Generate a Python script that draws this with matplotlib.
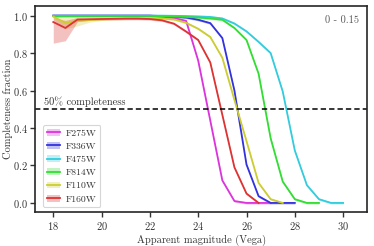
import matplotlib
matplotlib.use('Agg')
import matplotlib.pyplot as plt
from matplotlib.lines import Line2D
from matplotlib.patches import Patch
import numpy as np

matplotlib.rcParams['font.family'] = 'cmr10'
matplotlib.rcParams['mathtext.fontset'] = 'cm'
matplotlib.rcParams['axes.formatter.use_mathtext'] = True
matplotlib.rcParams.update({'font.size': 7.5})

# magnitude grid (Vega)
mag = [18.0, 18.5, 19.0, 19.5, 20.0, 20.5, 21.0, 21.5, 22.0, 22.5, 23.0, 23.5,
       24.0, 24.5, 25.0, 25.5, 26.0, 26.5, 27.0, 27.5, 28.0, 28.5, 29.0, 29.5, 30.0]

filters = ['F275W', 'F336W', 'F475W', 'F814W', 'F110W', 'F160W']
colors = ['#dd33dd', '#3333dd', '#33ccdd', '#33dd33', '#cccc33', '#dd3333']

# completeness curves (each ends where the reference line ends)
c_f275w = [1.0, 1.0, 1.0, 1.0, 1.0, 1.0, 1.0, 1.0, 1.0, 0.995, 0.987, 0.972,
           0.76, 0.44, 0.12, 0.01, 0.0, 0.0, 0.0]
c_f336w = [1.0, 1.0, 1.0, 1.0, 1.0, 1.0, 1.0, 1.0, 1.0, 0.998, 0.995, 0.99,
           0.978, 0.96, 0.88, 0.60, 0.205, 0.036, 0.0, 0.0, 0.0]
c_f475w = [1.0, 1.0, 1.0, 1.0, 1.0, 1.0, 1.0, 1.0, 1.0, 1.0, 0.999, 0.998,
           0.996, 0.993, 0.985, 0.958, 0.916, 0.86, 0.80, 0.595, 0.28, 0.095,
           0.02, 0.0, 0.0]
c_f814w = [0.998, 0.998, 0.998, 0.998, 0.998, 0.998, 0.998, 0.998, 0.998,
           0.997, 0.995, 0.993, 0.99, 0.985, 0.978, 0.934, 0.87, 0.69, 0.345,
           0.114, 0.02, 0.0, 0.0]
c_f110w = [0.995, 0.96, 0.972, 0.976, 0.98, 0.982, 0.984, 0.985, 0.985, 0.984,
           0.98, 0.962, 0.93, 0.886, 0.775, 0.55, 0.33, 0.107, 0.02, 0.0]
c_f160w = [0.966, 0.934, 0.979, 0.981, 0.982, 0.983, 0.984, 0.984, 0.982,
           0.975, 0.957, 0.915, 0.87, 0.75, 0.47, 0.19, 0.05, 0.0]

# lower / upper envelope of the shaded bands
lo_f110w = [0.98, 0.93, 0.945, 0.965]
hi_f110w = [1.0, 0.99, 0.99, 0.985]
lo_f160w = [0.853, 0.866, 0.968, 0.975]
hi_f160w = [0.99, 0.975, 0.99, 0.987]

curves = [c_f275w, c_f336w, c_f475w, c_f814w, c_f110w, c_f160w]
bands = {4: (lo_f110w, hi_f110w), 5: (lo_f160w, hi_f160w)}

fig = plt.figure(figsize=(3.74, 2.46), dpi=100)
ax = fig.add_axes([0.094, 0.137, 0.888, 0.839])

handles = []
for i, (name, col, c) in enumerate(zip(filters, colors, curves)):
    x = np.array(mag[:len(c)])
    y = np.array(c)
    lo = y - 0.006
    hi = np.minimum(y + 0.006, 1.0)
    if i in bands:
        blo, bhi = bands[i]
        lo[:len(blo)] = blo
        hi[:len(bhi)] = bhi
    ax.fill_between(x, lo, hi, color=col, alpha=0.3, lw=0)
    ax.plot(x, y, color=col, lw=1.3)
    handles.append((Patch(facecolor=col, alpha=0.3, lw=0),
                    Line2D([], [], color=col, lw=1.3)))

ax.axhline(0.5, color='k', ls='--', lw=1.1, dashes=(3.5, 2))
ax.text(17.6, 0.522, '50% completeness', fontsize=7.5, color='0.2')
ax.text(0.976, 0.93, '0 - 0.15', transform=ax.transAxes, ha='right',
        va='center', fontsize=7.5, color='0.35')

ax.set_xlim(17.25, 31.0)
ax.set_ylim(-0.05, 1.052)
ax.set_xticks([18, 20, 22, 24, 26, 28, 30])
ax.set_yticks([0.0, 0.2, 0.4, 0.6, 0.8, 1.0])
ax.set_xlabel('Apparent magnitude (Vega)', color='0.2', labelpad=2)
ax.set_ylabel('Completeness fraction', color='0.2')
ax.yaxis.set_label_coords(-0.066, 0.5)
ax.tick_params(direction='out', length=3.5, width=1.0, colors='0.2',
               labelsize=7.5, pad=2)
for s in ax.spines.values():
    s.set_linewidth(1.2)
    s.set_color('0.15')

leg = ax.legend(handles, filters, loc='lower left', bbox_to_anchor=(0.01, 0.0),
                fontsize=7, frameon=True, handlelength=1.3, handletextpad=0.6,
                labelspacing=0.45, borderpad=0.4, fancybox=True)
leg.get_frame().set_edgecolor('0.8')
leg.get_frame().set_linewidth(0.8)
for t in leg.get_texts():
    t.set_color('0.2')

fig.savefig('out.png', dpi=100)
